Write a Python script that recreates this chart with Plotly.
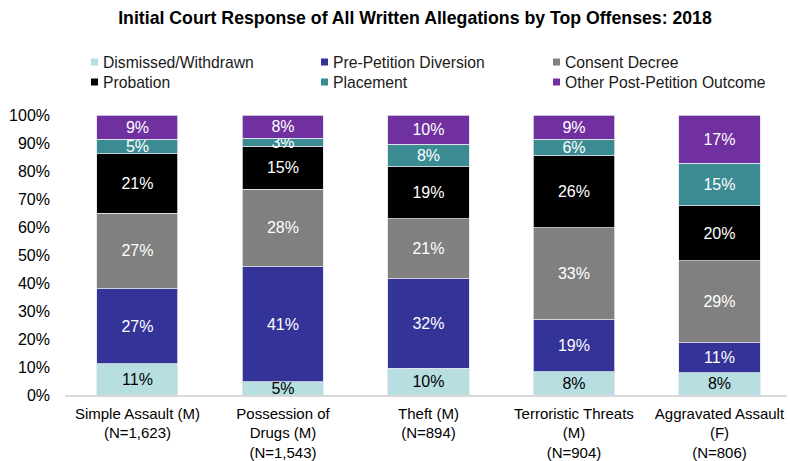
import plotly.graph_objects as go

# Offense categories (x-axis tick labels)
offenses = [
    "Simple Assault (M)<br>(N=1,623)",
    "Possession of<br>Drugs (M)<br>(N=1,543)",
    "Theft (M)<br>(N=894)",
    "Terroristic Threats<br>(M)<br>(N=904)",
    "Aggravated Assault<br>(F)<br>(N=806)",
]

# Share of allegations by initial court response (percent)
dismissed = [11.1, 4.8, 9.6, 8.3, 8.0]
pre_petition = [26.9, 41.0, 31.9, 18.6, 10.7]
consent_decree = [26.9, 27.7, 21.4, 32.9, 29.2]
probation = [21.2, 15.3, 18.6, 25.6, 19.7]
placement = [5.2, 2.9, 8.1, 5.9, 15.1]
other_post = [8.7, 8.3, 10.4, 8.7, 17.3]

series_names = [
    "Dismissed/Withdrawn",
    "Pre-Petition Diversion",
    "Consent Decree",
    "Probation",
    "Placement",
    "Other Post-Petition Outcome",
]
series_values = [dismissed, pre_petition, consent_decree, probation, placement, other_post]
series_colors = ["#B7DFE2", "#343398", "#808080", "#000000", "#3B8C92", "#7030A0"]
label_colors = ["#000000", "#FFFFFF", "#FFFFFF", "#FFFFFF", "#FFFFFF", "#FFFFFF"]

FONT = "Arial, 'Liberation Sans', sans-serif"

W, H = 790, 461
L, R, T, B = 65, 3, 115, 66
PW, PH = W - L - R, H - T - B


def px_x(px):
    return (px - L) / PW


def px_y(py):
    return (H - B - py) / PH


fig = go.Figure()
for name, vals, col, tcol in zip(series_names, series_values, series_colors, label_colors):
    fig.add_trace(go.Bar(
        name=name,
        x=offenses,
        y=[v / 100 for v in vals],
        marker=dict(color=col, line=dict(color="#E4E4EE", width=0.8)),
        texttemplate="%{y:.0%}",
        textposition="inside",
        insidetextanchor="middle",
        textangle=0,
        textfont=dict(family=FONT, size=16, color=tcol),
        showlegend=False,
        hoverinfo="skip",
    ))

# Legend drawn as colour swatches plus labels in a 3 x 2 grid
col_px = [91, 321, 553]
row_py = [62, 82]
shapes = []
annotations = []
for i, (name, col) in enumerate(zip(series_names, series_colors)):
    cx = col_px[i % 3]
    cy = row_py[i // 3]
    shapes.append(dict(
        type="rect", xref="paper", yref="paper",
        xsizemode="pixel", ysizemode="pixel",
        xanchor=px_x(cx), yanchor=px_y(cy),
        x0=0, x1=7, y0=-3.5, y1=3.5,
        fillcolor=col, line=dict(width=0),
    ))
    annotations.append(dict(
        text=name, xref="paper", yref="paper",
        x=px_x(cx + 10), y=px_y(cy), xanchor="left", yanchor="middle",
        showarrow=False, font=dict(family=FONT, size=15.7, color="#1A1A1A"),
    ))

fig.update_layout(
    width=W, height=H,
    margin=dict(l=L, r=R, t=T, b=B, autoexpand=False),
    paper_bgcolor="white", plot_bgcolor="white",
    barmode="stack",
    bargap=0.443,
    uniformtext=dict(minsize=16, mode="show"),
    title=dict(
        text="<b>Initial Court Response of All Written Allegations by Top Offenses: 2018</b>",
        x=415 / W, y=1 - 18 / H, xref="container", yref="container",
        xanchor="center", yanchor="middle",
        font=dict(family=FONT, size=17.7, color="#000000"),
    ),
    xaxis=dict(
        type="category",
        range=[-0.498, 4.464],
        showgrid=False, zeroline=False,
        showline=True, linecolor="#D9D9D9", linewidth=1.5,
        ticks="", ticklabelstandoff=4,
        tickfont=dict(family=FONT, size=15, color="#000000"),
    ),
    yaxis=dict(
        range=[0, 1],
        dtick=0.1, tickformat=".0%",
        showgrid=False, zeroline=False, showline=False,
        ticks="", ticklabelstandoff=14,
        tickfont=dict(family=FONT, size=16, color="#000000"),
    ),
    shapes=shapes,
    annotations=annotations,
)

fig.write_html("out.html")
